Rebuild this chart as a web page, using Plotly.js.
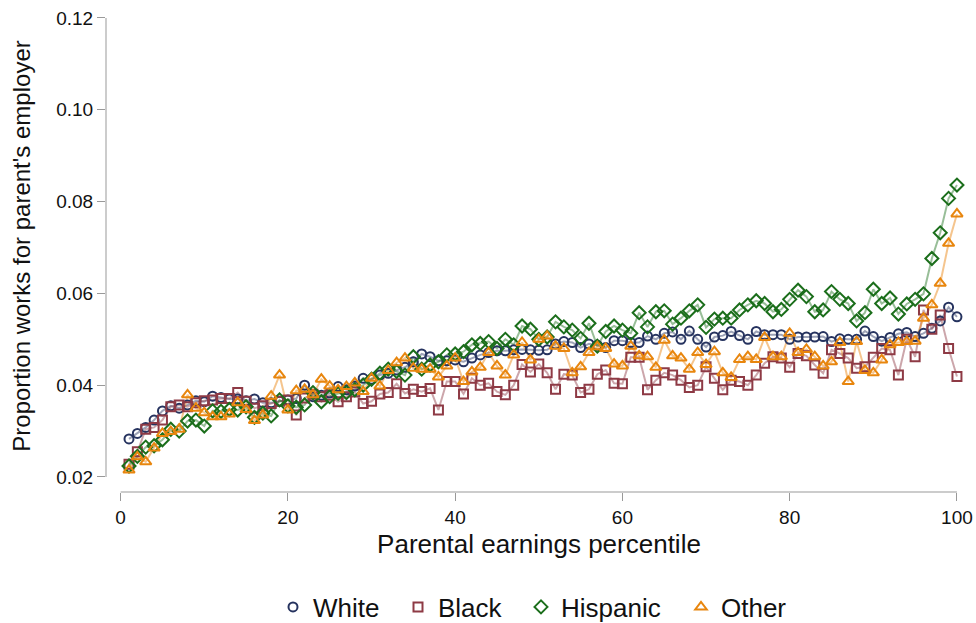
<!DOCTYPE html>
<html>
<head>
<meta charset="utf-8">
<script src="https://cdn.plot.ly/plotly-3.0.1.min.js"></script>
<style>html,body{margin:0;padding:0;background:#fff;}#chart{width:976px;height:623px;}</style>
</head>
<body>
<div id="chart"></div>
<script>
const percentiles = Array.from({length: 100}, (_, i) => i + 1);

const white = [0.0283,0.0295,0.0308,0.0324,0.0344,0.0355,0.0350,0.0357,0.0366,0.0364,
0.0376,0.0373,0.0370,0.0370,0.0366,0.0370,0.0362,0.0362,0.0365,0.0368,
0.0371,0.0400,0.0375,0.0378,0.0383,0.0397,0.0390,0.0398,0.0415,0.0413,
0.0422,0.0426,0.0433,0.0439,0.0451,0.0468,0.0462,0.0453,0.0453,0.0455,
0.0451,0.0459,0.0466,0.0471,0.0475,0.0475,0.0477,0.0478,0.0477,0.0476,
0.0477,0.0490,0.0495,0.0493,0.0482,0.0490,0.0487,0.0482,0.0497,0.0497,
0.0493,0.0493,0.0507,0.0500,0.0513,0.0516,0.0500,0.0518,0.0500,0.0483,
0.0505,0.0508,0.0517,0.0508,0.0500,0.0517,0.0510,0.0510,0.0510,0.0500,
0.0505,0.0505,0.0505,0.0506,0.0495,0.0501,0.0500,0.0500,0.0518,0.0506,
0.0496,0.0504,0.0512,0.0515,0.0506,0.0513,0.0524,0.0540,0.0570,0.0549];

const black = [0.0228,0.0255,0.0304,0.0308,0.0324,0.0353,0.0357,0.0353,0.0362,0.0366,
0.0368,0.0371,0.0371,0.0384,0.0365,0.0350,0.0355,0.0360,0.0365,0.0368,
0.0335,0.0372,0.0380,0.0375,0.0378,0.0364,0.0375,0.0385,0.0360,0.0365,
0.0381,0.0384,0.0403,0.0382,0.0391,0.0386,0.0393,0.0346,0.0408,0.0408,
0.0381,0.0415,0.0400,0.0404,0.0386,0.0379,0.0400,0.0445,0.0429,0.0446,
0.0427,0.0391,0.0424,0.0422,0.0384,0.0391,0.0424,0.0433,0.0404,0.0403,
0.0461,0.0461,0.0390,0.0411,0.0427,0.0422,0.0411,0.0395,0.0400,0.0440,
0.0415,0.0390,0.0411,0.0408,0.0400,0.0422,0.0448,0.0462,0.0459,0.0439,
0.0469,0.0464,0.0444,0.0426,0.0477,0.0469,0.0459,0.0437,0.0440,0.0461,
0.0480,0.0477,0.0422,0.0500,0.0462,0.0564,0.0522,0.0553,0.0480,0.0419];

const hispanic = [0.0224,0.0245,0.0265,0.0268,0.0281,0.0304,0.0300,0.0322,0.0324,0.0311,
0.0344,0.0343,0.0347,0.0346,0.0353,0.0330,0.0339,0.0333,0.0368,0.0355,
0.0352,0.0357,0.0384,0.0364,0.0375,0.0382,0.0384,0.0390,0.0400,0.0413,
0.0426,0.0435,0.0430,0.0422,0.0462,0.0435,0.0444,0.0451,0.0466,0.0468,
0.0473,0.0488,0.0491,0.0495,0.0480,0.0500,0.0488,0.0529,0.0522,0.0500,
0.0505,0.0538,0.0527,0.0520,0.0502,0.0535,0.0485,0.0517,0.0529,0.0520,
0.0513,0.0558,0.0527,0.0560,0.0562,0.0533,0.0546,0.0562,0.0575,0.0526,
0.0544,0.0546,0.0546,0.0564,0.0575,0.0584,0.0578,0.0560,0.0565,0.0587,
0.0607,0.0593,0.0560,0.0564,0.0604,0.0587,0.0578,0.0540,0.0558,0.0609,
0.0578,0.0590,0.0555,0.0577,0.0587,0.0599,0.0676,0.0732,0.0807,0.0836];

const other = [0.0215,0.0244,0.0233,0.0263,0.0295,0.0299,0.0304,0.0379,0.0350,0.0340,
0.0331,0.0331,0.0337,0.0362,0.0347,0.0323,0.0335,0.0376,0.0422,0.0346,
0.0388,0.0391,0.0379,0.0413,0.0398,0.0390,0.0397,0.0405,0.0386,0.0415,
0.0398,0.0432,0.0449,0.0459,0.0437,0.0435,0.0435,0.0418,0.0442,0.0459,
0.0408,0.0429,0.0439,0.0471,0.0442,0.0422,0.0466,0.0493,0.0455,0.0500,
0.0507,0.0485,0.0480,0.0427,0.0440,0.0471,0.0484,0.0480,0.0446,0.0442,
0.0485,0.0464,0.0462,0.0439,0.0498,0.0464,0.0459,0.0435,0.0471,0.0445,
0.0473,0.0427,0.0417,0.0456,0.0462,0.0456,0.0504,0.0462,0.0462,0.0513,
0.0471,0.0478,0.0462,0.0442,0.0451,0.0493,0.0408,0.0495,0.0432,0.0427,
0.0455,0.0488,0.0493,0.0495,0.0496,0.0546,0.0575,0.0622,0.0709,0.0773];

const seriesNames = ['White', 'Black', 'Hispanic', 'Other'];
const seriesData = [white, black, hispanic, other];
const markerColors = ['#26335f', '#8e3a45', '#1b6e1b', '#e8860e'];
const lineColors = ['rgba(38,51,95,0.45)', 'rgba(142,58,69,0.45)', 'rgba(27,110,27,0.45)', 'rgba(236,140,30,0.5)'];
const symbols = ['circle-open', 'square-open', 'diamond-open', 'triangle-up-open'];
const sizes = [9, 9, 10, 10];
const legendIds = ['legend', 'legend2', 'legend3', 'legend4'];
const legendSymbolX = [294, 419, 542, 702];

const yTicks = [0.02, 0.04, 0.06, 0.08, 0.10, 0.12];
const xTicks = [0, 20, 40, 60, 80, 100];

const traces = [];
seriesData.forEach((d, i) => {
  traces.push({
    x: percentiles, y: d, type: 'scatter', mode: 'lines',
    line: {color: lineColors[i], width: 2}, showlegend: false, hoverinfo: 'skip'
  });
});
seriesData.forEach((d, i) => {
  traces.push({
    x: percentiles, y: d, type: 'scatter', mode: 'markers', name: seriesNames[i],
    legend: legendIds[i],
    marker: {symbol: symbols[i], size: sizes[i], color: markerColors[i], line: {width: 2, color: markerColors[i]}}
  });
});

const font = 'Liberation Sans, Arial, Helvetica, sans-serif';
const layout = {
  width: 976, height: 623,
  margin: {l: 106, r: 4, t: 0, b: 131, autoexpand: false},
  paper_bgcolor: '#fff', plot_bgcolor: '#fff',
  font: {family: font, color: '#111', size: 19},
  xaxis: {
    range: [-1.75, 101.8], showgrid: false, zeroline: false, showline: false,
    tickvals: xTicks, ticks: 'outside', ticklen: 8, tickcolor: '#999', tickwidth: 1,
    tickfont: {size: 19, family: font, color: '#111'},
    title: {text: 'Parental earnings percentile', font: {size: 26, family: font, color: '#111'}, standoff: 8}
  },
  yaxis: {
    range: [0.01673, 0.12392], showgrid: false, zeroline: false, showline: false,
    tickvals: yTicks, tickformat: '.2f', ticks: 'outside', ticklen: 8, tickcolor: '#999', tickwidth: 1,
    tickfont: {size: 19, family: font, color: '#111'},
    title: {text: "Proportion works for parent's employer", font: {size: 24, family: font, color: '#111'}, standoff: 18}
  },
  shapes: [
    {type: 'line', xref: 'paper', yref: 'y', x0: 0, x1: 0, y0: 0.02, y1: 0.12, line: {color: '#999', width: 1}},
    {type: 'line', xref: 'x', yref: 'paper', x0: 0, x1: 100, y0: 0, y1: 0, line: {color: '#999', width: 1}}
  ]
};
legendIds.forEach((id, i) => {
  layout[id] = {
    orientation: 'h', xref: 'container', x: (legendSymbolX[i] - 21) / 976, xanchor: 'left',
    yref: 'container', y: 1 - 607 / 623, yanchor: 'middle',
    font: {size: 26, family: font, color: '#111'}, itemsizing: 'trace', bgcolor: 'rgba(0,0,0,0)'
  };
});

Plotly.newPlot('chart', traces, layout, {displayModeBar: false, staticPlot: true});
</script>
</body>
</html>
